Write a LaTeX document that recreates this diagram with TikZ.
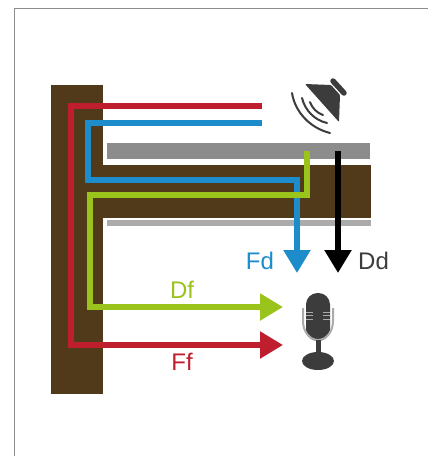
\documentclass[tikz,border=0pt]{standalone}
\usepackage{fontspec}
\setmainfont{Liberation Sans}
\usetikzlibrary{arrows.meta}
\definecolor{wallc}{HTML}{513A1A}
\definecolor{grayc}{HTML}{8C8C8C}
\definecolor{lightg}{HTML}{ABABAB}
\definecolor{redc}{HTML}{BE1E2D}
\definecolor{bluec}{HTML}{1C8CCB}
\definecolor{greenc}{HTML}{9AC31C}
\definecolor{darkc}{HTML}{3C3C3C}
\tikzset{
  path line/.style={line width=5.4pt,miter limit=10},
  tip head/.style={-{Triangle[length=23pt,width=26pt]}},
  label text/.style={font=\fontsize{24pt}{25pt}\selectfont,inner sep=0pt},
  wave/.style={draw=darkc,line width=2pt,line cap=round}
}
\begin{document}
\begin{tikzpicture}[x=1pt,y=-1pt]
\useasboundingbox (0,0) rectangle (428,456);
\fill[white] (0,0) rectangle (428,456);
\draw[grayc,line width=1pt] (14.5,456) -- (14.5,8.5) -- (428,8.5);
% structure
\fill[wallc] (51,85) rectangle (103,394);
\fill[wallc] (103,165) rectangle (371,218);
\fill[grayc] (107,143) rectangle (370,159);
\fill[lightg] (107,219.5) rectangle (371,226);
% paths
\coordinate (redA) at (262,106);
\coordinate (redB) at (71,106);
\coordinate (redC) at (71,345);
\coordinate (redD) at (283,345);
\coordinate (blueA) at (262,123);
\coordinate (blueB) at (88,123);
\coordinate (blueC) at (88,180);
\coordinate (blueD) at (297,180);
\coordinate (blueE) at (297,273);
\coordinate (greenA) at (307,151);
\coordinate (greenB) at (307,195);
\coordinate (greenC) at (90,195);
\coordinate (greenD) at (90,307);
\coordinate (greenE) at (283,307);
\coordinate (blackA) at (338,151);
\coordinate (blackB) at (338,273);
\draw[path line,redc,tip head] (redA) -- (redB) -- (redC) -- (redD);
\draw[path line,bluec,tip head] (blueA) -- (blueB) -- (blueC) -- (blueD) -- (blueE);
\draw[path line,greenc,tip head] (greenA) -- (greenB) -- (greenC) -- (greenD) -- (greenE);
\draw[path line,black,tip head] (blackA) -- (blackB);
% labels
\node[label text,text=bluec] (fd) at (260,260.5) {Fd};
\begin{scope}
\clip (350,240) rectangle (388,280);
\node[label text,text=darkc,anchor=west] (dd) at (358,260.5) {Dd};
\end{scope}
\node[label text,text=greenc] (df) at (182,290) {Df};
\node[label text,text=redc] (ff) at (182,362) {Ff};
% speaker
\fill[darkc,rounded corners=1pt] (305,84) -- (331,85) -- (340,95) -- (339,122) -- cycle;
\draw[darkc,line width=5.5pt,line cap=round] (333,81) -- (344,93);
\draw[wave] (292,93) .. controls (295,112) and (310,128) .. (330,133);
\draw[wave] (302,98) .. controls (305,110) and (314,120) .. (327,123);
\draw[wave] (310,102) .. controls (312,108) and (317,113) .. (323,115);
% microphone
\fill[darkc,rounded corners=11.5pt] (306,293) rectangle (330,341);
\draw[lightg,line width=2pt] (303,308) -- (303,321) .. controls (303,332) and (310,340) .. (318,340) .. controls (326,340) and (333,332) .. (333,321) -- (333,308);
\foreach \yy in {312,315.5,319}{
  \draw[lightg,line width=1pt] (306,\yy) -- (313,\yy);
  \draw[lightg,line width=1pt] (323,\yy) -- (330,\yy);
}
\fill[darkc] (315.5,340) rectangle (320.5,356);
\fill[darkc] (318,361) ellipse [x radius=16,y radius=9];
\end{tikzpicture}
\end{document}
